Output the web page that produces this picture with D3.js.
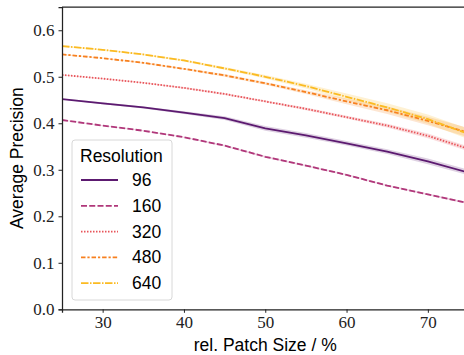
<!DOCTYPE html>
<html>
<head>
<meta charset="utf-8">
<script src="https://cdn.jsdelivr.net/npm/d3@7"></script>
<style>
  body { margin: 0; background: #fff; }
  svg { display: block; }
</style>
</head>
<body>
<div id="chart"></div>
<script>
// patch sizes (x) and average precision per resolution
const patchSizes = [25, 30, 35, 40, 45, 50, 55, 60, 65, 70, 75];
const resolutions = ["96", "160", "320", "480", "640"];

const ap96  = [0.452, 0.443, 0.434, 0.423, 0.411, 0.389, 0.374, 0.357, 0.339, 0.318, 0.294];
const ap160 = [0.407, 0.395, 0.384, 0.370, 0.352, 0.328, 0.309, 0.289, 0.266, 0.247, 0.228];
const ap320 = [0.504, 0.496, 0.487, 0.476, 0.463, 0.447, 0.431, 0.413, 0.395, 0.373, 0.345];
const ap480 = [0.548, 0.540, 0.530, 0.517, 0.503, 0.486, 0.467, 0.447, 0.428, 0.405, 0.380];
const ap640 = [0.566, 0.558, 0.548, 0.535, 0.518, 0.500, 0.480, 0.457, 0.434, 0.409, 0.377];

// half width of the confidence band
const ci96  = [0.001, 0.002, 0.002, 0.003, 0.004, 0.005, 0.005, 0.005, 0.005, 0.006, 0.006];
const ci160 = [0.001, 0.001, 0.001, 0.001, 0.002, 0.002, 0.002, 0.002, 0.002, 0.002, 0.002];
const ci320 = [0.001, 0.001, 0.001, 0.002, 0.002, 0.002, 0.003, 0.003, 0.004, 0.005, 0.005];
const ci480 = [0.001, 0.001, 0.002, 0.002, 0.003, 0.003, 0.004, 0.006, 0.008, 0.009, 0.010];
const ci640 = [0.001, 0.001, 0.002, 0.002, 0.003, 0.004, 0.005, 0.007, 0.009, 0.010, 0.011];

const yTicks = [0.0, 0.1, 0.2, 0.3, 0.4, 0.5, 0.6];
const xTicks = [30, 40, 50, 60, 70];

const colors = ["#5c1a70", "#b0377a", "#e8545a", "#f7801f", "#fbbb22"];
const dashes = ["", "6,2.25", "1.5,1.5", "4.5,1.9,2.25,1.9", "7.5,1.5,1.5,1.5"];

const width = 464, height = 355;
const margin = {left: 62, top: 7, bottom: 45.7};
const plotRight = 468.5;

const series = [ap96, ap160, ap320, ap480, ap640].map((vals, i) => ({
    name: resolutions[i],
    color: colors[i],
    dash: dashes[i],
    ci: [ci96, ci160, ci320, ci480, ci640][i],
    values: vals
}));

const svg = d3.select("#chart").append("svg")
    .attr("width", width)
    .attr("height", height);

const x = d3.scaleLinear().domain([25, 75]).range([margin.left, plotRight]);
const y = d3.scaleLinear().domain([0, 0.65]).range([height - margin.bottom, margin.top]);

svg.append("defs").append("clipPath").attr("id", "clip")
    .append("rect")
    .attr("x", margin.left).attr("y", margin.top)
    .attr("width", plotRight - margin.left)
    .attr("height", y(0) - margin.top);

const plot = svg.append("g").attr("clip-path", "url(#clip)");

const area = d3.area()
    .x((d, i) => x(patchSizes[i]))
    .y0(d => y(d[0]))
    .y1(d => y(d[1]));

const line = d3.line()
    .x((d, i) => x(patchSizes[i]))
    .y(d => y(d));

series.forEach(s => {
    plot.append("path")
        .datum(s.values.map((v, i) => [v - s.ci[i], v + s.ci[i]]))
        .attr("d", area)
        .attr("fill", s.color)
        .attr("fill-opacity", 0.2)
        .attr("stroke", "none");
});

series.forEach(s => {
    plot.append("path")
        .datum(s.values)
        .attr("d", line)
        .attr("fill", "none")
        .attr("stroke", s.color)
        .attr("stroke-width", 1.8)
        .attr("stroke-dasharray", s.dash || null);
});

// axes
const xAxis = svg.append("g")
    .attr("transform", `translate(0,${y(0)})`)
    .call(d3.axisBottom(x).tickValues(xTicks).tickSize(3.5).tickPadding(3).tickFormat(d3.format("d")));
const yAxis = svg.append("g")
    .attr("transform", `translate(${margin.left},0)`)
    .call(d3.axisLeft(y).tickValues(yTicks).tickSize(3.5).tickPadding(4).tickFormat(d3.format(".1f")));

[xAxis, yAxis].forEach(a => {
    a.select(".domain").attr("stroke", "#222").attr("stroke-width", 1.25);
    a.selectAll(".tick line").attr("stroke", "#222").attr("stroke-width", 1);
    a.selectAll(".tick text")
        .attr("fill", "#222")
        .style("font-family", "'Liberation Serif', serif")
        .style("font-size", "17px");
});

// top spine
svg.append("line")
    .attr("x1", margin.left).attr("x2", width)
    .attr("y1", margin.top).attr("y2", margin.top)
    .attr("stroke", "#222").attr("stroke-width", 1.25);

svg.append("text")
    .attr("x", x(50))
    .attr("y", 351)
    .attr("text-anchor", "middle")
    .style("font-family", "'Liberation Sans', Arial, sans-serif")
    .style("font-size", "17.5px")
    .text("rel. Patch Size / %");

svg.append("text")
    .attr("transform", `translate(23,${(y(0) + margin.top) / 2}) rotate(-90)`)
    .attr("text-anchor", "middle")
    .style("font-family", "'Liberation Sans', Arial, sans-serif")
    .style("font-size", "17.5px")
    .text("Average Precision");

// legend
const legend = svg.append("g");
legend.append("rect")
    .attr("x", 72).attr("y", 140)
    .attr("width", 100).attr("height", 160)
    .attr("rx", 3)
    .attr("fill", "#fff").attr("fill-opacity", 0.8)
    .attr("stroke", "#d8d8d8");
legend.append("text")
    .attr("x", 80).attr("y", 162)
    .style("font-family", "'Liberation Sans', Arial, sans-serif")
    .style("font-size", "17.5px")
    .text("Resolution");

series.forEach((s, i) => {
    const ry = 180 + i * 25.8;
    legend.append("line")
        .attr("x1", 81).attr("x2", 118)
        .attr("y1", ry).attr("y2", ry)
        .attr("stroke", s.color)
        .attr("stroke-width", 1.8)
        .attr("stroke-dasharray", s.dash || null);
    legend.append("text")
        .attr("x", 132).attr("y", ry + 6)
        .style("font-family", "'Liberation Sans', Arial, sans-serif")
        .style("font-size", "17.5px")
        .text(s.name);
});
</script>
</body>
</html>
